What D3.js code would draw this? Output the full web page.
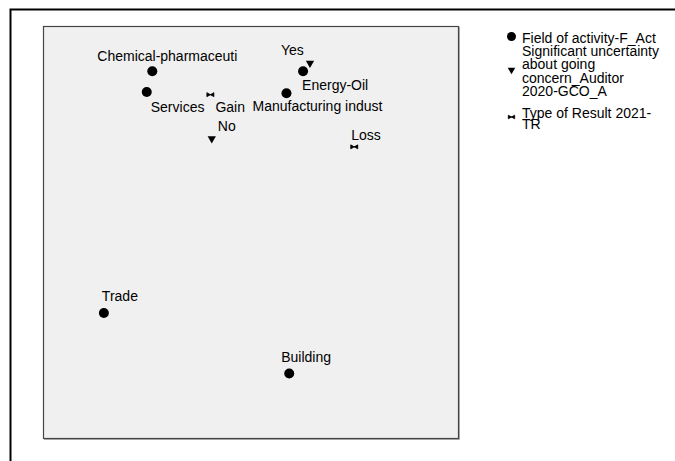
<!DOCTYPE html>
<html>
<head>
<meta charset="utf-8">
<script src="https://cdn.jsdelivr.net/npm/d3@7/dist/d3.min.js"></script>
<style>
  html, body { margin: 0; padding: 0; background: #fff; }
  svg { display: block; }
  text { font-family: "Liberation Sans", Arial, sans-serif; fill: #000; }
</style>
</head>
<body>
<svg id="chart" width="675" height="461"></svg>
<script>
// Category points (joint plot of category points, dimension 1 vs dimension 2)
const labels = ["Chemical-pharmaceuti", "Services", "Energy-Oil", "Manufacturing indust", "Trade", "Building",
                "Yes", "No", "Gain", "Loss"];
const groups = ["F_Act", "F_Act", "F_Act", "F_Act", "F_Act", "F_Act",
                "GCO_A", "GCO_A", "TR", "TR"];
const dim1 = [-0.81, -0.85, 0.28, 0.16, -1.16, 0.18, 0.33, -0.38, -0.39, 0.65];
const dim2 = [0.27, 0.12, 0.27, 0.11, -1.49, -1.93, 0.33, -0.22, 0.10, -0.28];

// Legend entries: variable names, one line per row
const legendGroups = ["F_Act", "GCO_A", "TR"];
const legendLines = [
  ["Field of activity-F_Act"],
  ["Significant uncertainty", "about going", "concern_Auditor", "2020-GCO_A"],
  ["Type of Result 2021-", "TR"]
];

// Label placement relative to each point (left edge, baseline)
const labelOffset = [[-55, -10], [4, 20], [-1, 19], [-34, 18], [-2, -12], [-8, -11],
                     [-29, -8], [6, -8], [5, 17], [-3, -7]];

const svg = d3.select("#chart");

// Outer frame (top and left edges)
svg.append("path")
  .attr("d", "M10.5,461 L10.5,9.5 L675,9.5")
  .attr("fill", "none").attr("stroke", "#000").attr("stroke-width", 2);

// Plot area
const plot = { x0: 43, y0: 26, x1: 458, y1: 438 };
const x = d3.scaleLinear().domain([-1.6, 1.4]).range([plot.x0, plot.x1]);
const y = d3.scaleLinear().domain([-2.4, 0.6]).range([plot.y1, plot.y0]);

svg.append("path")
  .attr("d", `M${plot.x0 + 1},${plot.y1 + 1.5} L${plot.x1 + 1.5},${plot.y1 + 1.5} L${plot.x1 + 1.5},${plot.y0 + 1}`)
  .attr("fill", "none").attr("stroke", "#b0b0b0").attr("stroke-width", 1);
svg.append("rect")
  .attr("x", plot.x0 + 0.5).attr("y", plot.y0 + 0.5)
  .attr("width", plot.x1 - plot.x0).attr("height", plot.y1 - plot.y0)
  .attr("fill", "#f0f0f0").attr("stroke", "#454545").attr("stroke-width", 1.2);

// Marker shapes by variable
function marker(sel, g, scale) {
  if (g === "F_Act") {
    sel.append("circle").attr("r", 5 * scale).attr("fill", "#000");
  } else if (g === "GCO_A") {
    sel.append("path").attr("d", d3.symbol().type(d3.symbolTriangle).size(30 * scale * scale)())
      .attr("transform", "rotate(180)").attr("fill", "#000");
  } else {
    const w = 3.5 * scale, h = 2 * scale;
    sel.append("path")
      .attr("d", `M${-w},${-h} L0,0 L${-w},${h} Z M${w},${-h} L0,0 L${w},${h} Z M${-w},0 L${w},0`)
      .attr("fill", "#000").attr("stroke", "#000").attr("stroke-width", 0.8);
  }
}

const idx = d3.range(labels.length);
const pts = svg.append("g").selectAll("g").data(idx).join("g")
  .attr("transform", i => `translate(${x(dim1[i])},${y(dim2[i])})`);
pts.each(function(i) { marker(d3.select(this), groups[i], 1); });
pts.append("text")
  .attr("x", i => labelOffset[i][0]).attr("y", i => labelOffset[i][1])
  .attr("font-size", 14)
  .text(i => labels[i]);

// Legend
const legendMarkerPos = [[511.5, 36.5], [511.5, 70], [511.5, 117]];
const legendBaselines = [[42.7], [56, 69.3, 83, 95.5], [118.3, 129]];
const lg = svg.append("g");
legendGroups.forEach((g, k) => {
  const m = lg.append("g").attr("transform", `translate(${legendMarkerPos[k][0]},${legendMarkerPos[k][1]})`);
  marker(m, g, k === 0 ? 0.9 : 0.9);
  legendLines[k].forEach((line, j) => {
    lg.append("text").attr("x", 522).attr("y", legendBaselines[k][j])
      .attr("font-size", 14).text(line);
  });
});
</script>
</body>
</html>
